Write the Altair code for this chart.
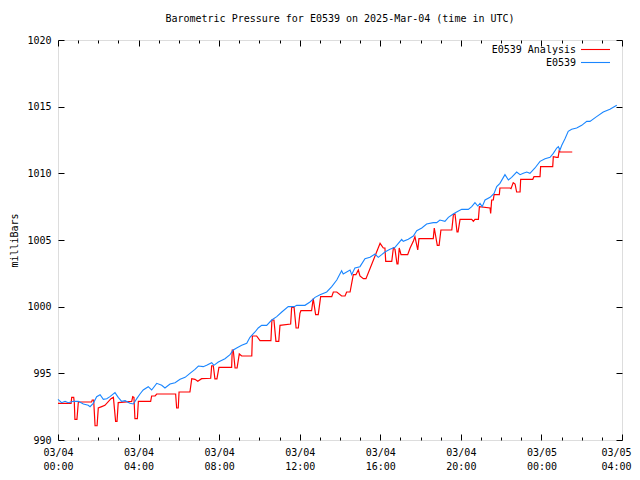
import altair as alt
import pandas as pd

# ---- data (hours after 2025-03-04 00:00 UTC, pressure in millibars) ----
analysis_hours = [0.00, 0.65, 0.68, 0.78, 0.81, 0.84, 0.94, 1.01, 1.67, 1.70,
                  1.77, 1.84, 1.94, 2.00, 2.17, 2.33, 2.63, 2.75, 2.86, 2.93,
                  2.99, 3.66, 3.71, 3.77, 3.82, 3.94, 3.99, 4.60, 4.65, 4.82,
                  4.90, 5.84, 5.89, 5.97, 6.01, 6.55, 6.64, 6.80, 6.94, 7.13,
                  7.58, 7.63, 7.71, 7.79, 7.89, 7.99, 8.62, 8.65, 8.70, 8.79,
                  8.89, 9.00, 9.12, 9.62, 9.65, 9.86, 10.03, 10.57, 10.62, 10.72,
                  10.82, 10.96, 11.02, 11.55, 11.60, 11.72, 11.82, 11.93, 12.01, 12.06,
                  12.59, 12.67, 12.79, 12.92, 13.04, 13.59, 13.67, 13.84, 14.08, 14.25,
                  14.33, 14.50, 14.66, 14.79, 14.91, 14.99, 15.16, 15.29, 15.99, 16.15,
                  16.23, 16.27, 16.57, 16.65, 16.73, 16.83, 16.88, 16.94, 17.03, 17.36,
                  17.48, 17.64, 17.72, 17.86, 17.92, 18.63, 18.68, 18.83, 18.92, 19.01,
                  19.55, 19.63, 19.71, 19.81, 19.86, 19.96, 20.54, 20.62, 20.70, 20.87,
                  20.92, 21.45, 21.48, 21.53, 21.61, 21.65, 21.91, 21.94, 22.44, 22.49,
                  22.60, 22.69, 22.77, 22.94, 22.97, 23.57, 23.63, 23.93, 23.96, 24.56,
                  24.59, 24.76, 24.83, 24.88, 24.93, 25.53]
analysis_mb = [992.75, 992.75, 993.2, 993.2, 992.8, 991.55, 991.55, 992.85, 992.85, 993.0,
               993.0, 991.07, 991.07, 992.4, 992.5, 992.6, 993.1, 993.2, 991.4, 991.4,
               992.8, 992.9, 993.25, 993.2, 991.6, 991.6, 992.9, 992.9, 993.3, 993.3,
               993.45, 993.45, 992.4, 992.4, 993.6, 993.6, 994.6, 994.55, 994.4, 994.6,
               994.63, 995.57, 995.57, 994.58, 994.58, 995.45, 995.45, 996.75, 996.75, 995.4,
               995.4, 996.45, 996.3, 996.3, 997.8, 997.8, 997.45, 997.45, 999.0, 999.0,
               997.4, 997.4, 998.6, 998.7, 999.95, 999.95, 998.4, 998.4, 999.5, 999.7,
               999.7, 1000.6, 999.4, 999.4, 1000.75, 1000.75, 1001.1, 1001.1, 1000.8, 1000.8,
               1001.1, 1001.1, 1002.4, 1002.4, 1002.75, 1002.3, 1002.1, 1002.1, 1004.75, 1004.4,
               1004.4, 1003.4, 1003.4, 1004.4, 1004.3, 1003.2, 1003.2, 1004.4, 1003.9, 1003.9,
               1004.4, 1004.9, 1005.25, 1004.25, 1005.1, 1005.1, 1005.9, 1004.6, 1004.6, 1005.75,
               1005.75, 1006.9, 1006.95, 1005.6, 1005.6, 1006.55, 1006.55, 1006.4, 1006.55, 1006.55,
               1007.5, 1007.4, 1007.0, 1008.0, 1008.0, 1008.4, 1008.4, 1008.9, 1008.9, 1008.85,
               1009.3, 1009.2, 1008.6, 1008.6, 1009.55, 1009.55, 1009.75, 1009.75, 1010.5, 1010.5,
               1011.25, 1011.2, 1011.2, 1011.7, 1011.6, 1011.6]

station_hours = [0.00, 0.18, 0.35, 0.51, 0.76, 1.01, 1.26, 1.50, 1.59, 1.75,
                 1.92, 2.09, 2.25, 2.42, 2.58, 2.83, 2.99, 3.16, 3.33, 3.57,
                 3.74, 3.91, 4.07, 4.23, 4.48, 4.65, 4.90, 5.15, 5.31, 5.56,
                 5.81, 6.06, 6.31, 6.55, 6.80, 6.97, 7.21, 7.38, 7.63, 7.74,
                 7.96, 8.29, 8.54, 8.70, 8.87, 9.12, 9.37, 9.53, 9.78, 9.94,
                 10.11, 10.36, 10.61, 10.86, 11.11, 11.43, 11.73, 11.85, 12.26, 12.51,
                 12.76, 13.01, 13.34, 13.59, 13.84, 14.08, 14.16, 14.50, 14.58, 14.74,
                 14.99, 15.24, 15.49, 15.74, 15.90, 16.07, 16.23, 16.48, 16.73, 16.98,
                 17.06, 17.14, 17.39, 17.64, 17.81, 18.06, 18.30, 18.63, 18.80, 18.96,
                 19.21, 19.38, 19.62, 19.79, 20.04, 20.37, 20.54, 20.70, 20.84, 20.95,
                 21.06, 21.20, 21.45, 21.65, 21.78, 21.94, 22.19, 22.36, 22.52, 22.77,
                 22.94, 23.10, 23.27, 23.43, 23.68, 23.93, 24.18, 24.43, 24.59, 24.76,
                 24.84, 24.92, 25.01, 25.17, 25.33, 25.50, 25.75, 26.00, 26.25, 26.41,
                 26.74, 27.07, 27.40, 27.74]
station_mb = [993.05, 992.8, 992.9, 992.8, 992.9, 992.9, 992.7, 992.6, 992.5, 992.75,
              993.25, 993.4, 993.05, 993.1, 993.25, 993.55, 993.2, 992.9, 992.95, 992.75,
              992.7, 993.1, 993.45, 993.75, 994.0, 993.75, 994.25, 994.1, 993.9, 994.2,
              994.3, 994.55, 994.7, 995.0, 995.3, 995.55, 995.5, 995.6, 995.8, 995.6,
              995.85, 996.1, 996.4, 996.75, 996.9, 997.1, 997.25, 997.7, 998.1, 998.4,
              998.6, 998.6, 999.0, 999.25, 999.6, 1000.0, 1000.0, 1000.1, 1000.1, 1000.35,
              1000.7, 1000.9, 1001.1, 1001.5, 1002.0, 1002.7, 1002.45, 1002.75, 1002.4, 1002.9,
              1003.0, 1003.6, 1003.7, 1003.95, 1003.7, 1003.9, 1004.1, 1004.3, 1004.45, 1004.9,
              1005.05, 1004.9, 1005.05, 1005.3, 1005.7, 1005.9, 1006.2, 1006.3, 1006.3, 1006.5,
              1006.4, 1006.7, 1006.95, 1007.1, 1007.3, 1007.3, 1007.5, 1007.8, 1007.55, 1007.75,
              1007.5, 1008.0, 1008.2, 1008.5, 1009.0, 1009.25, 1009.9, 1009.5, 1009.7, 1010.1,
              1009.9, 1010.0, 1010.1, 1010.0, 1010.4, 1010.9, 1011.1, 1011.2, 1011.5, 1011.9,
              1012.0, 1011.75, 1012.1, 1012.6, 1013.15, 1013.3, 1013.4, 1013.6, 1013.9, 1013.9,
              1014.25, 1014.6, 1014.8, 1015.1]

legend_labels = ["E0539 Analysis", "E0539"]
series_colors = ["#ff0000", "#1a86ff"]
y_ticks = [990, 995, 1000, 1005, 1010, 1015, 1020]
title_text = "Barometric Pressure for E0539 on 2025-Mar-04 (time in UTC)"

FONT = "DejaVu Sans Mono"
W, H = 564, 400
HOUR = 3600000
start_ms = int(pd.Timestamp("2025-03-04T00:00:00Z").value // 10**6)
end_ms = start_ms + 28 * HOUR
x_dom = [start_ms, end_ms]
major_x = [start_ms + 4 * k * HOUR for k in range(8)]
hourly_x = [start_ms + k * HOUR for k in range(29)]


def frame(hours, values):
    return pd.DataFrame({"t": [start_ms + h * HOUR for h in hours], "mb": values})


analysis_df = frame(analysis_hours, analysis_mb)
station_df = frame(station_hours, station_mb)

x_scale = alt.Scale(type="utc", domain=x_dom, nice=False)
y_scale = alt.Scale(domain=[990, 1020], nice=False, zero=False)

common = dict(domain=False, grid=False, title=None, labels=False,
              tickColor="black", tickWidth=1)
x_tick_size = {"condition": {"test": "utchours(datum.value) % 4 === 0", "value": 6},
               "value": 3}

# label axes
x_label_axis = alt.Axis(orient="bottom", values=major_x, ticks=False, domain=False,
                        grid=False, title=None,
                        labelExpr="[utcFormat(datum.value, '%m/%d'), utcFormat(datum.value, '%H:%M')]",
                        labelFont=FONT, labelFontSize=10, labelColor="black",
                        labelPadding=7, labelLineHeight=14, labelOverlap=False,
                        labelFlush=False, labelBound=False, labelAlign="center",
                        labelOffset={"condition": {"test": f"+datum.value >= {end_ms}", "value": -6},
                                     "value": 0})
y_label_axis = alt.Axis(orient="left", values=y_ticks, ticks=False, domain=False,
                        grid=False, format="d", labelFont=FONT, labelFontSize=10,
                        labelColor="black", labelPadding=7, labelOverlap=False,
                        labelBound=False, labelFlush=False,
                        title="milliBars", titleFont=FONT, titleFontSize=10,
                        titleFontWeight="normal", titleColor="black",
                        titleX=-44, titleY=200, titleAngle=270,
                        titleAlign="center", titleBaseline="middle")

# inward tick axes (bottom/left)
x_tick_bottom = alt.Axis(orient="top", offset=-H, values=hourly_x, tickSize=x_tick_size, **common)
y_tick_left = alt.Axis(orient="right", offset=-W, values=y_ticks, tickSize=6, **common)
# inward tick axes (top/right)
x_tick_top = alt.Axis(orient="bottom", offset=-H, values=hourly_x, tickSize=x_tick_size, **common)
y_tick_right = alt.Axis(orient="left", offset=-W, values=y_ticks, tickSize=6, **common)

red = alt.Chart(analysis_df).mark_line(color=series_colors[0], strokeWidth=1.2).encode(
    x=alt.X("t:T", scale=x_scale, axis=x_label_axis),
    y=alt.Y("mb:Q", scale=y_scale, axis=y_label_axis),
)
blue = alt.Chart(station_df).mark_line(color=series_colors[1], strokeWidth=1.1).encode(
    x=alt.X("t:T", scale=x_scale, axis=x_tick_bottom),
    y=alt.Y("mb:Q", scale=y_scale, axis=y_tick_left),
)
ghost = alt.Chart(station_df).mark_line(opacity=0).encode(
    x=alt.X("t:T", scale=x_scale, axis=x_tick_top),
    y=alt.Y("mb:Q", scale=y_scale, axis=y_tick_right),
)

legend_layers = []
for i, (lab, col) in enumerate(zip(legend_labels, series_colors)):
    ypos = 9.5 + 13 * i
    ldf = pd.DataFrame({"label": [lab]})
    legend_layers.append(
        alt.Chart(ldf).mark_text(align="right", baseline="middle", font=FONT,
                                 fontSize=10, color="black").encode(
            x=alt.value(518), y=alt.value(ypos), text="label:N")
    )
    legend_layers.append(
        alt.Chart(ldf).mark_rule(color=col, strokeWidth=1.1).encode(
            x=alt.value(523), x2=alt.value(552), y=alt.value(ypos))
    )

chart = alt.layer(red, blue, ghost, *legend_layers).resolve_axis(
    x="independent", y="independent"
).properties(
    width=W, height=H,
    title=alt.TitleParams(title_text, font=FONT, fontSize=10, fontWeight="normal",
                          color="black", anchor="middle", offset=11),
    autosize=alt.AutoSizeParams(type="none"),
    padding={"left": 50, "top": 32, "right": 10, "bottom": 32},
).configure_view(stroke="black", strokeWidth=1).configure(background="white")

chart.save("out.html", embed_options={"renderer": "svg", "actions": False})
